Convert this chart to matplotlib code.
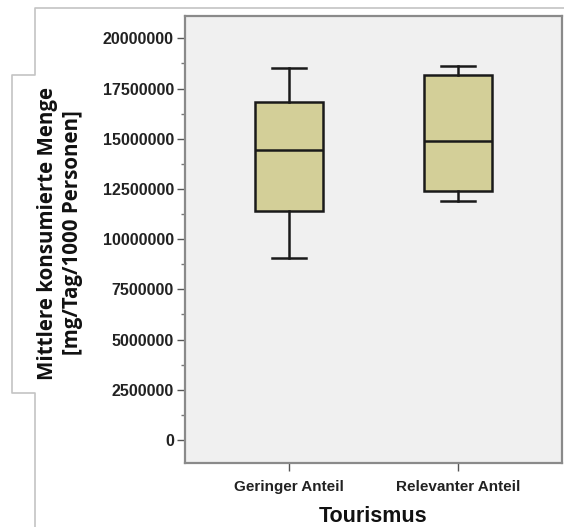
import matplotlib
matplotlib.use("Agg")
import matplotlib.pyplot as plt
from matplotlib.lines import Line2D
from matplotlib.ticker import MultipleLocator, FormatStrFormatter

# Box plot statistics per tourism group
categories = ["Geringer Anteil", "Relevanter Anteil"]
whisker_low = [9050000, 11900000]
q1 = [11400000, 12400000]
median = [14450000, 14900000]
q3 = [16850000, 18150000]
whisker_high = [18500000, 18600000]

W, H, DPI = 564, 527, 100
fig = plt.figure(figsize=(W / DPI, H / DPI), dpi=DPI)
fig.patch.set_facecolor("white")

ax = fig.add_axes([185 / W, 1 - 463 / H, (562 - 185) / W, (463 - 16) / H])
ax.set_facecolor("#F0F0F0")

stats = []
for i, cat in enumerate(categories):
    stats.append(dict(label=cat, whislo=whisker_low[i], q1=q1[i], med=median[i],
                      q3=q3[i], whishi=whisker_high[i], fliers=[]))

ax.bxp(stats, positions=[1, 2], widths=0.4, patch_artist=True, showfliers=False,
       boxprops=dict(facecolor="#D3CF98", edgecolor="#1a1a1a", linewidth=1.8),
       medianprops=dict(color="#1a1a1a", linewidth=1.8),
       whiskerprops=dict(color="#1a1a1a", linewidth=1.8),
       capprops=dict(color="#1a1a1a", linewidth=1.8),
       capwidths=0.2)

ax.set_xlim(0.39, 2.61)
ax.set_ylim(-1145000, 21110000)
ax.yaxis.set_major_locator(MultipleLocator(2500000))
ax.yaxis.set_minor_locator(MultipleLocator(1250000))
ax.yaxis.set_major_formatter(FormatStrFormatter("%d"))

for s in ax.spines.values():
    s.set_color("#8a8a8a")
    s.set_linewidth(1.6)

ax.tick_params(axis="y", which="major", length=6, width=1, color="#555555",
               labelsize=11.5, labelcolor="#222222", pad=2)
ax.tick_params(axis="y", which="minor", length=3, width=1, color="#777777")
ax.tick_params(axis="x", which="major", length=6, width=1, color="#555555",
               labelsize=11, labelcolor="#222222", pad=6)
for lab in ax.get_yticklabels() + ax.get_xticklabels():
    lab.set_fontfamily("Liberation Sans")
    lab.set_fontweight("bold")

ax.set_xlabel("Tourismus", fontsize=15.5, fontweight="bold", family="Liberation Sans",
              color="#111111", labelpad=9)

fig.text(60 / W, 1 - 233 / H, "Mittlere konsumierte Menge\n[mg/Tag/1000 Personen]",
         rotation=90, ha="center", va="center", fontsize=14.8, fontweight="bold",
         family="Open Sans", color="#111111", linespacing=1.2)

# Light frame around the chart and the axis-title panel
frame_pts = [(564, 8), (35, 8), (35, 75), (12, 75), (12, 393), (35, 393), (35, 527)]
xs = [p[0] / W for p in frame_pts]
ys = [1 - p[1] / H for p in frame_pts]
fig.add_artist(Line2D(xs, ys, transform=fig.transFigure, color="#c4c4c4", linewidth=1.2))

fig.savefig("out.png", dpi=DPI)
